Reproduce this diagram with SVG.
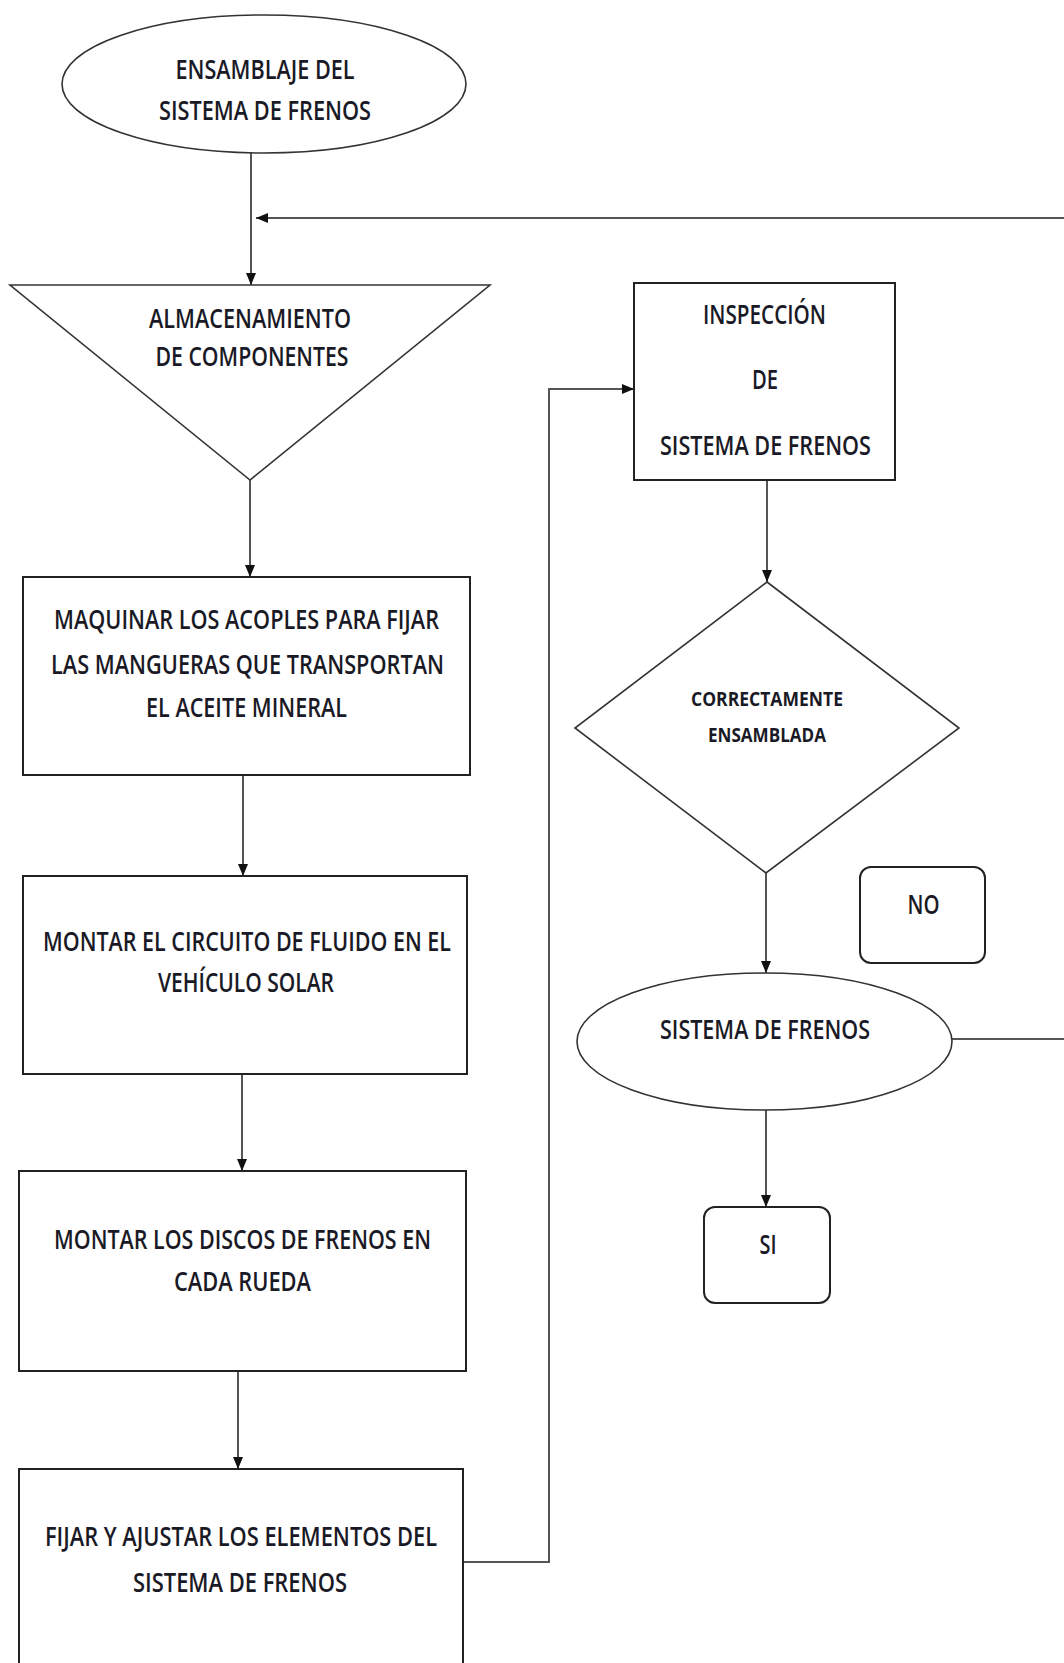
<svg xmlns="http://www.w3.org/2000/svg" width="1064" height="1663" viewBox="0 0 1064 1663">
  <style>
    .shape { fill: #ffffff; stroke: #222222; stroke-width: 2; }
    .thin { fill: #ffffff; stroke: #333333; stroke-width: 1.6; }
    .conn { fill: none; stroke: #555555; stroke-width: 2; }
    .lbl { font-family: "Open Sans", "Liberation Sans", sans-serif; font-size: 27px; font-weight: 600; fill: #1a1a26; text-anchor: middle; }
    .small { font-size: 19px; font-weight: bold; }
  </style>
  <defs>
    <marker id="arrow" markerUnits="userSpaceOnUse" markerWidth="12" markerHeight="10" refX="12" refY="5" orient="auto">
      <path d="M0,0 L12,5 L0,10 Z" fill="#111111"/>
    </marker>
  </defs>
  <rect width="1064" height="1663" fill="#ffffff"/>

  <!-- connectors -->
  <g id="connectors">
    <path class="conn" d="M251,153 V285" marker-end="url(#arrow)"/>
    <path class="conn" d="M952,1039 H1080 V218 H256" marker-end="url(#arrow)"/>
    <path class="conn" d="M250,480 V577" marker-end="url(#arrow)"/>
    <path class="conn" d="M243,775 V876" marker-end="url(#arrow)"/>
    <path class="conn" d="M242,1074 V1171" marker-end="url(#arrow)"/>
    <path class="conn" d="M238,1371 V1469" marker-end="url(#arrow)"/>
    <path class="conn" d="M463,1562 H549 V389 H634" marker-end="url(#arrow)"/>
    <path class="conn" d="M767,480 V582" marker-end="url(#arrow)"/>
    <path class="conn" d="M766,873 V973" marker-end="url(#arrow)"/>
    <path class="conn" d="M766,1110 V1207" marker-end="url(#arrow)"/>
  </g>

  <!-- start terminal -->
  <g id="inicio">
    <ellipse class="thin" cx="264" cy="84" rx="202" ry="69"/>
    <text class="lbl" x="265" y="79" textLength="179" lengthAdjust="spacingAndGlyphs">ENSAMBLAJE DEL</text>
    <text class="lbl" x="265" y="120" textLength="212" lengthAdjust="spacingAndGlyphs">SISTEMA DE FRENOS</text>
  </g>

  <!-- storage -->
  <g id="almacenamiento">
    <polygon class="thin" points="10,285 490,285 250,480"/>
    <text class="lbl" x="250" y="328" textLength="202" lengthAdjust="spacingAndGlyphs">ALMACENAMIENTO</text>
    <text class="lbl" x="252" y="366" textLength="193" lengthAdjust="spacingAndGlyphs">DE COMPONENTES</text>
  </g>

  <!-- process steps -->
  <g id="maquinar">
    <rect class="shape" x="23" y="577" width="447" height="198"/>
    <text class="lbl" x="246.5" y="629" textLength="385" lengthAdjust="spacingAndGlyphs">MAQUINAR LOS ACOPLES PARA FIJAR</text>
    <text class="lbl" x="247.5" y="674" textLength="393" lengthAdjust="spacingAndGlyphs">LAS MANGUERAS QUE TRANSPORTAN</text>
    <text class="lbl" x="246.5" y="717" textLength="201" lengthAdjust="spacingAndGlyphs">EL ACEITE MINERAL</text>
  </g>

  <g id="montar-circuito">
    <rect class="shape" x="23" y="876" width="444" height="198"/>
    <text class="lbl" x="247" y="951" textLength="408" lengthAdjust="spacingAndGlyphs">MONTAR EL CIRCUITO DE FLUIDO EN EL</text>
    <text class="lbl" x="246" y="992" textLength="176" lengthAdjust="spacingAndGlyphs">VEHÍCULO SOLAR</text>
  </g>

  <g id="montar-discos">
    <rect class="shape" x="19" y="1171" width="447" height="200"/>
    <text class="lbl" x="242.5" y="1249" textLength="377" lengthAdjust="spacingAndGlyphs">MONTAR LOS DISCOS DE FRENOS EN</text>
    <text class="lbl" x="242.5" y="1291" textLength="137" lengthAdjust="spacingAndGlyphs">CADA RUEDA</text>
  </g>

  <g id="fijar-ajustar">
    <rect class="shape" x="19" y="1469" width="444" height="220"/>
    <text class="lbl" x="241" y="1546" textLength="392" lengthAdjust="spacingAndGlyphs">FIJAR Y AJUSTAR LOS ELEMENTOS DEL</text>
    <text class="lbl" x="240" y="1592" textLength="214" lengthAdjust="spacingAndGlyphs">SISTEMA DE FRENOS</text>
  </g>

  <g id="inspeccion">
    <rect class="shape" x="634" y="283" width="261" height="197"/>
    <text class="lbl" x="764.5" y="324" textLength="123" lengthAdjust="spacingAndGlyphs">INSPECCIÓN</text>
    <text class="lbl" x="765" y="389" textLength="26" lengthAdjust="spacingAndGlyphs">DE</text>
    <text class="lbl" x="765.5" y="455" textLength="211" lengthAdjust="spacingAndGlyphs">SISTEMA DE FRENOS</text>
  </g>

  <!-- decision -->
  <g id="decision">
    <polygon class="thin" points="767,582 959,728 766,873 575,728"/>
    <text class="lbl small" x="767" y="706" textLength="152" lengthAdjust="spacingAndGlyphs">CORRECTAMENTE</text>
    <text class="lbl small" x="767" y="742" textLength="118" lengthAdjust="spacingAndGlyphs">ENSAMBLADA</text>
  </g>

  <g id="etiqueta-no">
    <rect class="shape" x="860" y="867" width="125" height="96" rx="11" ry="11"/>
    <text class="lbl" x="923.5" y="914" textLength="32" lengthAdjust="spacingAndGlyphs">NO</text>
  </g>

  <!-- end terminal -->
  <g id="sistema-frenos">
    <ellipse class="thin" cx="764.5" cy="1041.5" rx="187.5" ry="68.5"/>
    <text class="lbl" x="765" y="1039" textLength="210" lengthAdjust="spacingAndGlyphs">SISTEMA DE FRENOS</text>
  </g>

  <g id="etiqueta-si">
    <rect class="shape" x="704" y="1207" width="126" height="96" rx="11" ry="11"/>
    <text class="lbl" x="768" y="1254" textLength="17" lengthAdjust="spacingAndGlyphs">SI</text>
  </g>
</svg>
